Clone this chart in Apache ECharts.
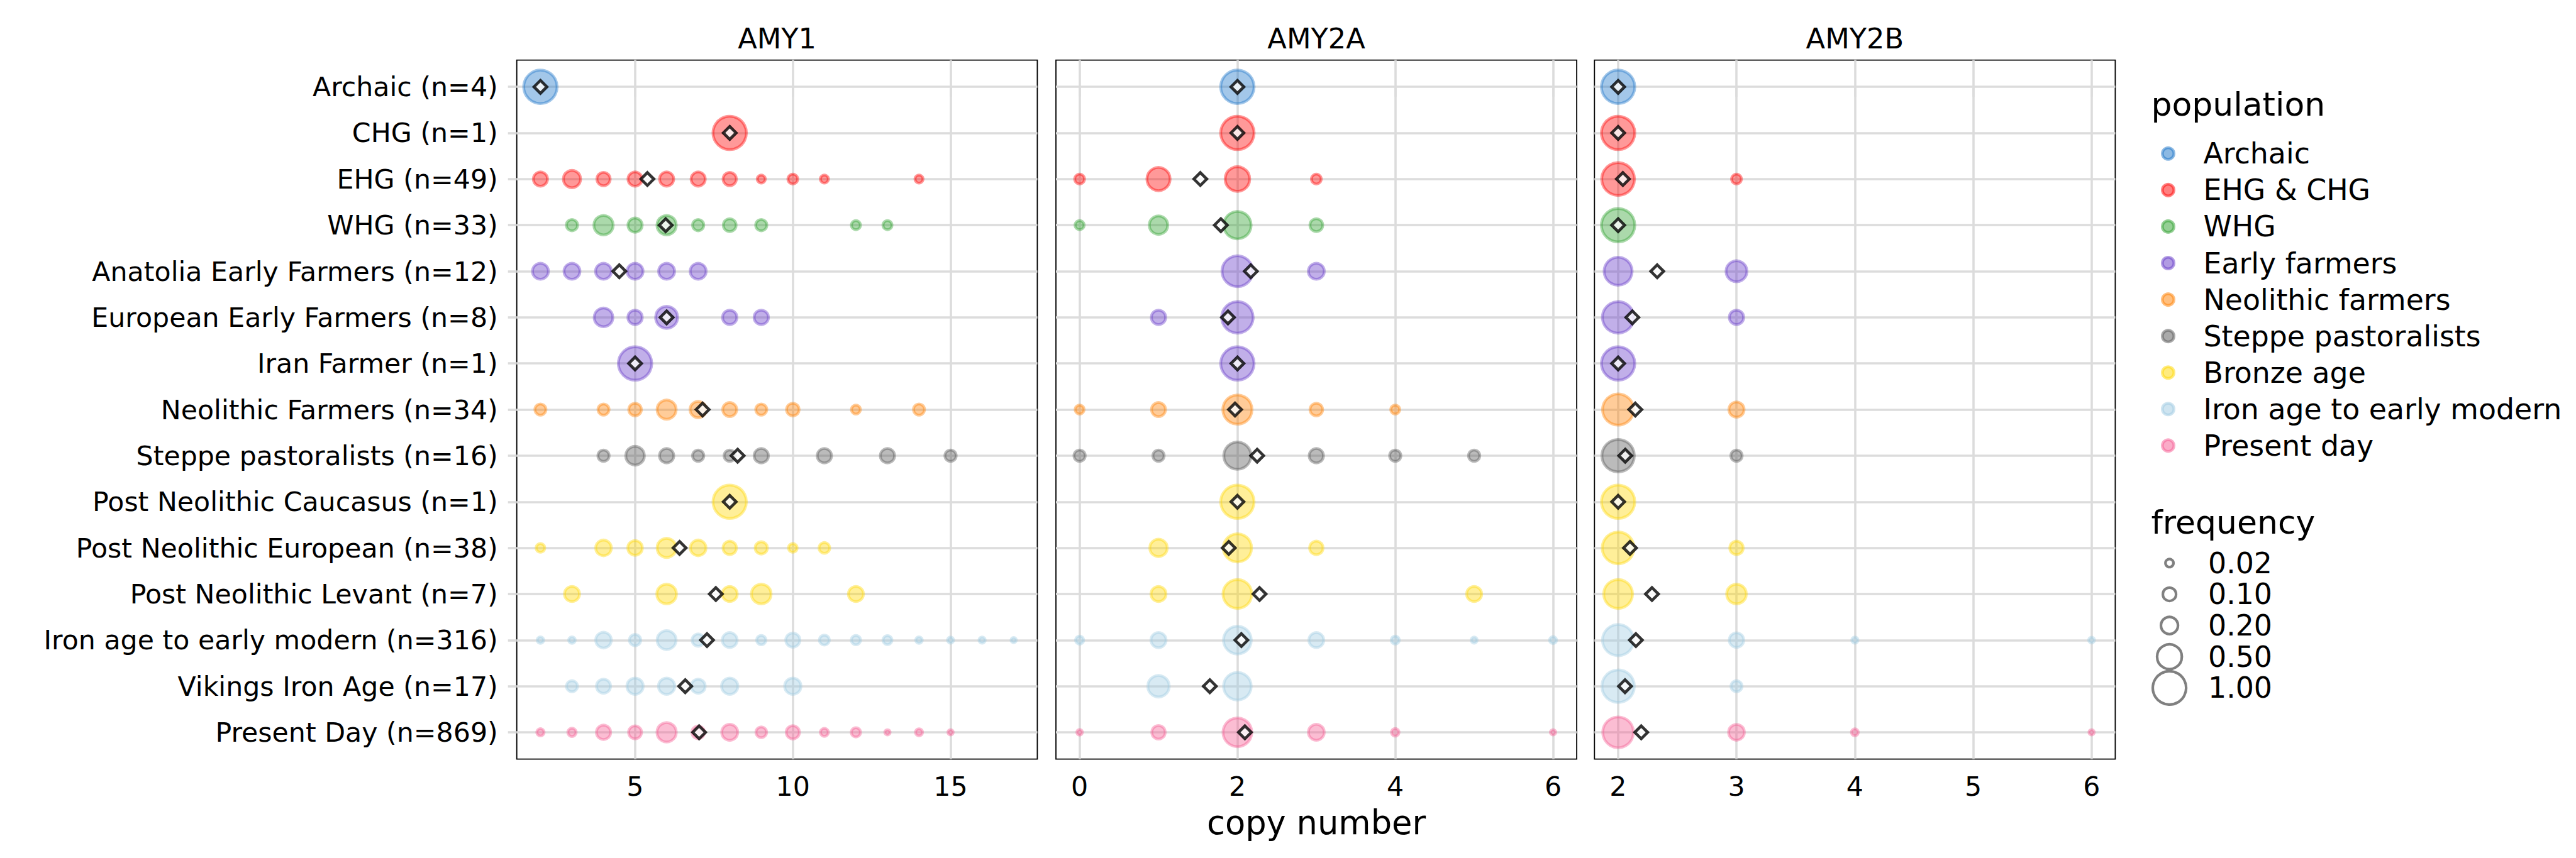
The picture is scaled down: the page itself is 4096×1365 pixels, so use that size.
<!DOCTYPE html>
<html>
<head>
<meta charset="utf-8">
<script src="https://cdn.jsdelivr.net/npm/echarts@6/dist/echarts.min.js"></script>
<style>
html,body{margin:0;padding:0;background:#ffffff;}
#chart{width:4096px;height:1365px;}
</style>
</head>
<body>
<div id="chart"></div>
<script>
// ---------------- data ----------------
const groups = [
  'Archaic (n=4)', 'CHG (n=1)', 'EHG (n=49)', 'WHG (n=33)',
  'Anatolia Early Farmers (n=12)', 'European Early Farmers (n=8)', 'Iran Farmer (n=1)',
  'Neolithic Farmers (n=34)', 'Steppe pastoralists (n=16)', 'Post Neolithic Caucasus (n=1)',
  'Post Neolithic European (n=38)', 'Post Neolithic Levant (n=7)',
  'Iron age to early modern (n=316)', 'Vikings Iron Age (n=17)', 'Present Day (n=869)'
];
const populations = [
  'Archaic', 'EHG & CHG', 'WHG', 'Early farmers', 'Neolithic farmers',
  'Steppe pastoralists', 'Bronze age', 'Iron age to early modern', 'Present day'
];
// population index of every group (row)
const groupPopulation = [0, 1, 1, 2, 3, 3, 3, 4, 5, 6, 6, 6, 7, 7, 8];
const genes = ['AMY1', 'AMY2A', 'AMY2B'];

// [copy number, frequency] per group
const amy1Freq = [
  [[2, 1]],
  [[8, 1]],
  [[2, 0.122], [3, 0.204], [4, 0.102], [5, 0.122], [6, 0.122], [7, 0.122], [8, 0.102], [9, 0.020], [10, 0.041], [11, 0.020], [14, 0.020]],
  [[3, 0.061], [4, 0.273], [5, 0.121], [6, 0.273], [7, 0.061], [8, 0.091], [9, 0.061], [12, 0.030], [13, 0.030]],
  [[2, 0.167], [3, 0.167], [4, 0.167], [5, 0.167], [6, 0.167], [7, 0.167]],
  [[4, 0.25], [5, 0.125], [6, 0.375], [8, 0.125], [9, 0.125]],
  [[5, 1]],
  [[2, 0.059], [4, 0.059], [5, 0.088], [6, 0.265], [7, 0.176], [8, 0.118], [9, 0.059], [10, 0.088], [12, 0.029], [14, 0.059]],
  [[4, 0.0625], [5, 0.25], [6, 0.125], [7, 0.0625], [8, 0.0625], [9, 0.125], [11, 0.125], [13, 0.125], [15, 0.0625]],
  [[8, 1]],
  [[2, 0.026], [4, 0.158], [5, 0.132], [6, 0.263], [7, 0.158], [8, 0.105], [9, 0.079], [10, 0.026], [11, 0.053]],
  [[3, 0.143], [6, 0.286], [8, 0.143], [9, 0.286], [12, 0.143]],
  [[2, 0.008], [3, 0.008], [4, 0.159], [5, 0.064], [6, 0.26], [7, 0.08], [8, 0.14], [9, 0.033], [10, 0.12], [11, 0.042], [12, 0.033], [13, 0.029], [14, 0.008], [15, 0.005], [16, 0.006], [17, 0.002]],
  [[3, 0.059], [4, 0.118], [5, 0.176], [6, 0.176], [7, 0.118], [8, 0.176], [10, 0.176]],
  [[2, 0.013], [3, 0.022], [4, 0.124], [5, 0.094], [6, 0.273], [7, 0.087], [8, 0.168], [9, 0.052], [10, 0.1], [11, 0.019], [12, 0.033], [13, 0.002], [14, 0.011], [15, 0.002]]
];
const amy2aFreq = [
  [[2, 1]],
  [[2, 1]],
  [[0, 0.041], [1, 0.429], [2, 0.490], [3, 0.041]],
  [[0, 0.030], [1, 0.242], [2, 0.636], [3, 0.091]],
  [[2, 0.833], [3, 0.167]],
  [[1, 0.125], [2, 0.875]],
  [[2, 1]],
  [[0, 0.029], [1, 0.118], [2, 0.735], [3, 0.088], [4, 0.029]],
  [[0, 0.0625], [1, 0.0625], [2, 0.625], [3, 0.125], [4, 0.0625], [5, 0.0625]],
  [[2, 1]],
  [[1, 0.211], [2, 0.684], [3, 0.105]],
  [[1, 0.143], [2, 0.714], [5, 0.143]],
  [[0, 0.02], [1, 0.145], [2, 0.657], [3, 0.14], [4, 0.02], [5, 0.005], [6, 0.011]],
  [[1, 0.353], [2, 0.647]],
  [[0, 0.003], [1, 0.105], [2, 0.71], [3, 0.165], [4, 0.015], [6, 0.002]]
];
const amy2bFreq = [
  [[2, 1]],
  [[2, 1]],
  [[2, 0.959], [3, 0.041]],
  [[2, 1]],
  [[2, 0.667], [3, 0.333]],
  [[2, 0.875], [3, 0.125]],
  [[2, 1]],
  [[2, 0.853], [3, 0.147]],
  [[2, 0.9375], [3, 0.0625]],
  [[2, 1]],
  [[2, 0.895], [3, 0.105]],
  [[2, 0.714], [3, 0.286]],
  [[2, 0.86], [3, 0.13], [4, 0.006], [6, 0.004]],
  [[2, 0.941], [3, 0.059]],
  [[2, 0.826], [3, 0.162], [4, 0.01], [6, 0.002]]
];
// mean copy number per group (diamonds)
const amy1Mean  = [2, 8, 5.39, 5.97, 4.5, 6.0, 5, 7.14, 8.25, 8, 6.41, 7.56, 7.28, 6.59, 7.03];
const amy2aMean = [2, 2, 1.53, 1.79, 2.17, 1.88, 2, 1.97, 2.25, 2, 1.89, 2.28, 2.05, 1.65, 2.095];
const amy2bMean = [2, 2, 2.04, 2, 2.33, 2.12, 2, 2.145, 2.06, 2, 2.10, 2.286, 2.15, 2.058, 2.195];

const amy1Ticks  = [5, 10, 15];
const amy2aTicks = [0, 2, 4, 6];
const amy2bTicks = [2, 3, 4, 5, 6];
const frequencyLegend = [0.02, 0.10, 0.20, 0.50, 1.00];
const frequencyLabels = ['0.02', '0.10', '0.20', '0.50', '1.00'];

// ---------------- style ----------------
const FONT = 'DejaVu Sans';
const populationRGB = [
  [25, 115, 200], [255, 0, 0], [44, 160, 44], [100, 55, 200], [255, 128, 0],
  [85, 85, 85], [255, 215, 0], [158, 202, 225], [245, 90, 145]
];
const ALPHA = 0.5;
const GRID_COLOR = '#dcdcdc';
const GRID_W = 3.6;
const BORDER_W = 4.5;
const LABEL_SIZE = 42.7;
const sizeOf = f => 6.1 + 47.0 * Math.sqrt(f);
const rgba = (c, a) => `rgba(${c[0]},${c[1]},${c[2]},${a})`;

const TOP = 95.6, HEIGHT = 1112;
const panels = [
  { left: 821.7,  width: 827.7, min: 1.25, max: 17.75, ticks: amy1Ticks,  freq: amy1Freq,  mean: amy1Mean },
  { left: 1679.0, width: 828.1, min: -0.3, max: 6.3,   ticks: amy2aTicks, freq: amy2aFreq, mean: amy2aMean },
  { left: 2535.3, width: 828.1, min: 1.8,  max: 6.2,   ticks: amy2bTicks, freq: amy2bFreq, mean: amy2bMean }
];
const rowIdx = groups.map((g, i) => i);

const grid = panels.map(p => ({
  left: p.left, top: TOP, width: p.width, height: HEIGHT,
  show: true, borderColor: '#000', borderWidth: 1.8, backgroundColor: 'transparent',
  containLabel: false, outerBoundsMode: 'none'
}));

const xAxis = panels.map((p, i) => ({
  type: 'value', gridIndex: i, min: p.min, max: p.max,
  axisLine: { show: false },
  axisTick: { show: true, customValues: p.ticks, length: 15.5, lineStyle: { color: GRID_COLOR, width: GRID_W } },
  axisLabel: { show: true, customValues: p.ticks, margin: 22, fontSize: LABEL_SIZE, fontFamily: FONT, color: '#000' },
  splitLine: { show: true, lineStyle: { color: GRID_COLOR, width: GRID_W } }
}));

const yAxis = panels.map((p, i) => ({
  type: 'value', gridIndex: i, inverse: true, min: -0.58, max: 14.58,
  axisLine: { show: false },
  axisTick: { show: i === 0, customValues: rowIdx, length: 14, lineStyle: { color: GRID_COLOR, width: GRID_W } },
  axisLabel: {
    show: i === 0, customValues: rowIdx, margin: 30, fontSize: LABEL_SIZE, fontFamily: FONT, color: '#000',
    formatter: v => groups[Math.round(v)]
  },
  splitLine: { show: true, lineStyle: { color: GRID_COLOR, width: GRID_W } }
}));

const series = [];
panels.forEach((p, i) => {
  populations.forEach((pop, k) => {
    const data = [];
    p.freq.forEach((row, r) => {
      if (groupPopulation[r] !== k) return;
      row.forEach(([c, f]) => data.push([c, r, f]));
    });
    series.push({
      type: 'scatter', name: pop, xAxisIndex: i, yAxisIndex: i, data,
      symbol: 'circle', symbolSize: v => sizeOf(v[2]),
      itemStyle: { color: rgba(populationRGB[k], ALPHA), borderColor: rgba(populationRGB[k], ALPHA), borderWidth: BORDER_W },
      silent: true, z: 2
    });
  });
  series.push({
    type: 'scatter', name: 'mean', xAxisIndex: i, yAxisIndex: i,
    data: p.mean.map((m, r) => [m, r]),
    symbol: 'diamond', symbolSize: 20.5,
    itemStyle: { color: '#ffffff', borderColor: '#000000', borderWidth: 4.6 },
    silent: true, z: 5
  });
});

const graphic = [];
genes.forEach((g, i) => {
  graphic.push({ type: 'text', x: panels[i].left + panels[i].width / 2, y: 61.6,
    style: { text: g, fontSize: 44.7, fontFamily: FONT, fill: '#000', align: 'center', verticalAlign: 'middle' } });
});
graphic.push({ type: 'text', x: panels[1].left + panels[1].width / 2, y: 1308,
  style: { text: 'copy number', fontSize: 52.7, fontFamily: FONT, fill: '#000', align: 'center', verticalAlign: 'middle' } });

// legend: population
const LEG_MARK_X = 3447.5, LEG_TEXT_X = 3503.5, LEG_TITLE_X = 3420.5;
graphic.push({ type: 'text', x: LEG_TITLE_X, y: 166,
  style: { text: 'population', fontSize: 52, fontFamily: FONT, fill: '#000', align: 'left', verticalAlign: 'middle' } });
populations.forEach((pop, k) => {
  const cy = 244.3 + k * 58.07;
  graphic.push({ type: 'circle', shape: { cx: LEG_MARK_X, cy, r: 9.2 },
    style: { fill: rgba(populationRGB[k], ALPHA), stroke: rgba(populationRGB[k], ALPHA), lineWidth: BORDER_W } });
  graphic.push({ type: 'text', x: LEG_TEXT_X, y: cy,
    style: { text: pop, fontSize: 45.8, fontFamily: FONT, fill: '#000', align: 'left', verticalAlign: 'middle' } });
});

// legend: frequency (marker sizes)
graphic.push({ type: 'text', x: LEG_TITLE_X, y: 830.5,
  style: { text: 'frequency', fontSize: 52, fontFamily: FONT, fill: '#000', align: 'left', verticalAlign: 'middle' } });
frequencyLegend.forEach((f, j) => {
  const cy = 895.8 + j * 49.65;
  graphic.push({ type: 'circle', shape: { cx: 3449.6, cy, r: sizeOf(f) / 2 },
    style: { fill: 'none', stroke: '#808080', lineWidth: 4.2 } });
  graphic.push({ type: 'text', x: 3511, y: cy,
    style: { text: frequencyLabels[j], fontSize: 45.8, fontFamily: FONT, fill: '#000', align: 'left', verticalAlign: 'middle' } });
});

const chart = echarts.init(document.getElementById('chart'), null, { renderer: 'svg' });
chart.setOption({
  backgroundColor: '#ffffff',
  animation: false,
  grid, xAxis, yAxis, series, graphic
});
</script>
</body>
</html>
